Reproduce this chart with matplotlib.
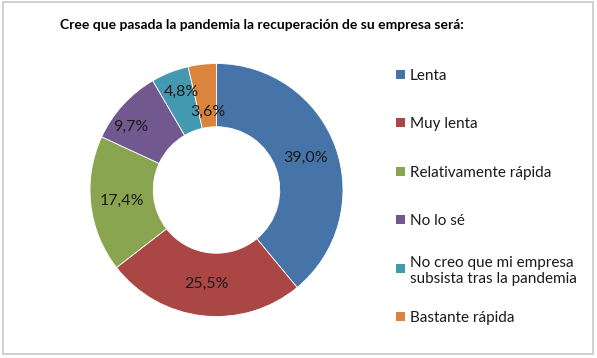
import matplotlib.pyplot as plt
from matplotlib.patches import Rectangle
import numpy as np

W, H = 597, 358

title = 'Cree que pasada la pandemia la recuperación de su empresa será:'
categories = ['Lenta', 'Muy lenta', 'Relativamente rápida', 'No lo sé',
              'No creo que mi empresa\nsubsista tras la pandemia', 'Bastante rápida']
values = [39.0, 25.5, 17.4, 9.7, 4.8, 3.6]
value_labels = ['39,0%', '25,5%', '17,4%', '9,7%', '4,8%', '3,6%']
colors = ['#4674A8', '#AA4643', '#8AA550', '#71598F', '#4299B0', '#DB843D']
# radial position of each label (Excel nudged the small ones)
label_r = [0.75, 0.75, 0.75, 0.84, 0.82, 0.62]
label_da = [0, 0, 0, 6, -2, 0]

plt.rcParams['font.family'] = ['Lato', 'DejaVu Sans']

fig = plt.figure(figsize=(W / 100, H / 100), dpi=100)

# outer border
bg = fig.add_axes([0, 0, 1, 1])
bg.set_xlim(0, W)
bg.set_ylim(H, 0)
bg.axis('off')
bg.add_patch(Rectangle((3, 2), 590, 352, fill=False, edgecolor='#C8C8C8', lw=1.2))

bg.text(262, 25, title, ha='center', va='center', fontsize=10,
        fontweight='bold', color='black')

# donut
cx, cy, R = 216.5, 190, 126.5
ax = fig.add_axes([(cx - R) / W, (H - cy - R) / H, 2 * R / W, 2 * R / H])
wedges, _ = ax.pie(values, colors=colors, startangle=90, counterclock=False,
                   radius=1.0, wedgeprops=dict(width=0.5, edgecolor='white', linewidth=0.6))
ax.set_xlim(-1, 1)
ax.set_ylim(-1, 1)
ax.set_aspect('equal')
ax.axis('off')

for w, lab, r, da in zip(wedges, value_labels, label_r, label_da):
    ang = np.deg2rad((w.theta1 + w.theta2) / 2 + da)
    ax.text(r * np.cos(ang), r * np.sin(ang), lab, ha='center', va='center',
            fontsize=11.5, color='#1a1a1a')

# legend
ly0, dy = 74, 48.5
for i, (cat, col) in enumerate(zip(categories, colors)):
    y = ly0 + i * dy
    bg.add_patch(Rectangle((396, y - 4.5), 9, 9, facecolor=col, edgecolor='none'))
    bg.text(410, y, cat, ha='left', va='center_baseline', fontsize=11,
            color='#1a1a1a', linespacing=1.2)

fig.savefig('out.png', dpi=100)
